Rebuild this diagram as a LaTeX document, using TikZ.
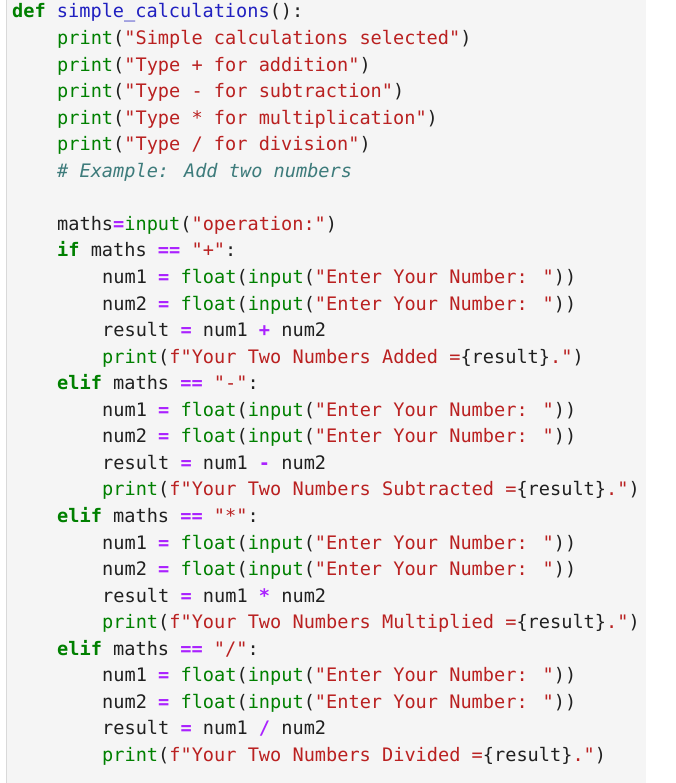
\documentclass[tikz,border=0pt]{standalone}
\usepackage{fontspec}
\newfontfamily\codefont{DejaVu Sans Mono}
\definecolor{kwc}{HTML}{008000}
\definecolor{fnc}{HTML}{2020C0}
\definecolor{strc}{HTML}{BA2121}
\definecolor{opc}{HTML}{AA22FF}
\definecolor{cmc}{HTML}{3D7B7B}
\definecolor{bgc}{HTML}{F5F5F5}
\definecolor{txc}{HTML}{202020}
\newcommand{\kw}[1]{\textcolor{kwc}{\bfseries #1}}
\newcommand{\bi}[1]{\textcolor{kwc}{#1}}
\newcommand{\fnn}[1]{\textcolor{fnc}{#1}}
\newcommand{\st}[1]{\textcolor{strc}{#1}}
\newcommand{\op}[1]{\textcolor{opc}{\bfseries #1}}
\newcommand{\cm}[1]{\textcolor{cmc}{\itshape #1}}
\tikzset{codeline/.style={anchor=base west, inner sep=0pt, font=\codefont\fontsize{18.6}{20}\selectfont, text=txc}}
\begin{document}
\begin{tikzpicture}[x=1pt,y=-1pt]
\useasboundingbox (0,0) rectangle (676,783);
\fill[bgc] (6,0) rectangle (646,783);
\draw[black!15] (6,0) -- (6,783);
\def\ya#1{\fpeval{12+26.55*#1+6}}
\node[codeline] (l0) at (12,{12+6}) {\kw{def} \fnn{simple\_calculations}():};
\node[codeline] (l1) at (57,{12+26.55*1+6}) {\bi{print}(\st{"Simple calculations selected"})};
\node[codeline] (l2) at (57,{12+26.55*2+6}) {\bi{print}(\st{"Type + for addition"})};
\node[codeline] (l3) at (57,{12+26.55*3+6}) {\bi{print}(\st{"Type - for subtraction"})};
\node[codeline] (l4) at (57,{12+26.55*4+6}) {\bi{print}(\st{"Type * for multiplication"})};
\node[codeline] (l5) at (57,{12+26.55*5+6}) {\bi{print}(\st{"Type / for division"})};
\node[codeline] (l6) at (57,{12+26.55*6+6}) {\cm{\# Example: Add two numbers}};
\node[codeline] (l8) at (57,{12+26.55*8+6}) {maths\op{=}\bi{input}(\st{"operation:"})};
\node[codeline] (l9) at (57,{12+26.55*9+6}) {\kw{if} maths \op{==} \st{"+"}:};
\node[codeline] (l10) at (102,{12+26.55*10+6}) {num1 \op{=} \bi{float}(\bi{input}(\st{"Enter Your Number: "}))};
\node[codeline] (l11) at (102,{12+26.55*11+6}) {num2 \op{=} \bi{float}(\bi{input}(\st{"Enter Your Number: "}))};
\node[codeline] (l12) at (102,{12+26.55*12+6}) {result \op{=} num1 \op{+} num2};
\node[codeline] (l13) at (102,{12+26.55*13+6}) {\bi{print}(\st{f"Your Two Numbers Added =}\{result\}\st{."})};
\node[codeline] (l14) at (57,{12+26.55*14+6}) {\kw{elif} maths \op{==} \st{"-"}:};
\node[codeline] (l15) at (102,{12+26.55*15+6}) {num1 \op{=} \bi{float}(\bi{input}(\st{"Enter Your Number: "}))};
\node[codeline] (l16) at (102,{12+26.55*16+6}) {num2 \op{=} \bi{float}(\bi{input}(\st{"Enter Your Number: "}))};
\node[codeline] (l17) at (102,{12+26.55*17+6}) {result \op{=} num1 \op{-} num2};
\node[codeline] (l18) at (102,{12+26.55*18+6}) {\bi{print}(\st{f"Your Two Numbers Subtracted =}\{result\}\st{."})};
\node[codeline] (l19) at (57,{12+26.55*19+6}) {\kw{elif} maths \op{==} \st{"*"}:};
\node[codeline] (l20) at (102,{12+26.55*20+6}) {num1 \op{=} \bi{float}(\bi{input}(\st{"Enter Your Number: "}))};
\node[codeline] (l21) at (102,{12+26.55*21+6}) {num2 \op{=} \bi{float}(\bi{input}(\st{"Enter Your Number: "}))};
\node[codeline] (l22) at (102,{12+26.55*22+6}) {result \op{=} num1 \op{*} num2};
\node[codeline] (l23) at (102,{12+26.55*23+6}) {\bi{print}(\st{f"Your Two Numbers Multiplied =}\{result\}\st{."})};
\node[codeline] (l24) at (57,{12+26.55*24+6}) {\kw{elif} maths \op{==} \st{"/"}:};
\node[codeline] (l25) at (102,{12+26.55*25+6}) {num1 \op{=} \bi{float}(\bi{input}(\st{"Enter Your Number: "}))};
\node[codeline] (l26) at (102,{12+26.55*26+6}) {num2 \op{=} \bi{float}(\bi{input}(\st{"Enter Your Number: "}))};
\node[codeline] (l27) at (102,{12+26.55*27+6}) {result \op{=} num1 \op{/} num2};
\node[codeline] (l28) at (102,{12+26.55*28+6}) {\bi{print}(\st{f"Your Two Numbers Divided =}\{result\}\st{."})};
\end{tikzpicture}
\end{document}
